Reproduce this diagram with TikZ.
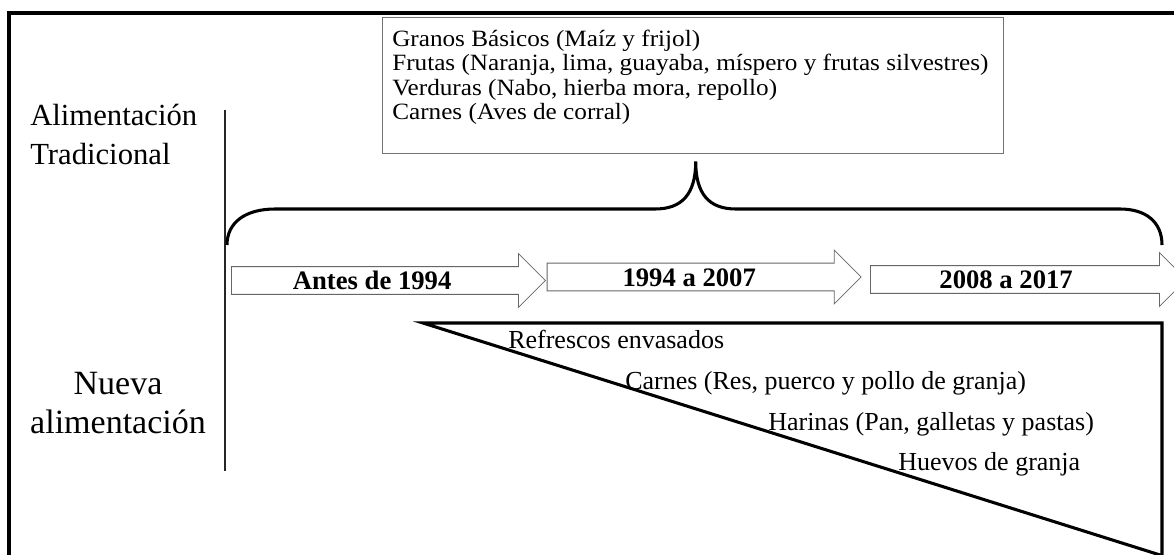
\documentclass[tikz,border=0pt]{standalone}
\usepackage{fontspec}
\setmainfont{Liberation Serif}
\newfontfamily\widefont[FakeStretch=1.08]{Liberation Serif}
\usetikzlibrary{shapes.arrows}

\begin{document}
\begin{tikzpicture}[
    x=0.75pt, y=-0.75pt,
    period/.style ={
        single arrow,
        anchor=tail,
        draw=black!60,
        fill=white,
        line width=0.6pt,
        minimum height=235.5pt,
        single arrow head extend=9.75pt,
        inner xsep=0pt,
        inner ysep=3.3pt,
        text height=13.6pt,
        text depth=0pt,
        font=\bfseries\fontsize{20}{20}\selectfont
    },
    heavy/.style ={line width=2.3pt},
    side/.style ={anchor=base west, inner sep=0pt, font=\fontsize{23}{28}\selectfont},
    item/.style ={anchor=base west, inner sep=0pt, font=\fontsize{19.5}{22}\selectfont},
    crop/.style ={anchor=base west, inner sep=0pt, font=\widefont\fontsize{17.5}{18}\selectfont}
    ]
    \useasboundingbox (0,0) rectangle (1174,554);

    % frame, cut by the page on the right and below
    \draw[heavy] (9,570) -- (9,13) -- (1190,13);

    % left labels
    \node[side] (tradA) at (30,125) {Alimentación};
    \node[side] (tradB) at (30,164) {Tradicional};
    \node[side, anchor=base, font=\fontsize{25.5}{28}\selectfont] (nuevaA) at (118,394) {Nueva};
    \node[side, anchor=base, font=\fontsize{25.5}{28}\selectfont] (nuevaB) at (118,433) {alimentación};
    \draw[line width=1.5pt, black!85] (225,110) -- (225,471);

    % traditional foods
    \node[draw=black!55, line width=0.6pt, anchor=north west, inner sep=0pt,
          minimum width=465.75pt, minimum height=102pt] (tradbox) at (382,17) {};
    \foreach \i/ \y/ \txt in {1/46/{Granos Básicos (Maíz y frijol)},
                              2/70.5/{Frutas (Naranja, lima, guayaba, míspero y frutas silvestres)},
                              3/95/{Verduras (Nabo, hierba mora, repollo)},
                              4/119/{Carnes (Aves de corral)}}
        \node[crop] (t\i) at (392,\y) {\txt};

    % brace
    \draw[heavy] (227,245) .. controls (227,222) and (246,209) .. (275,209)
        -- (655,209) .. controls (682,209) and (695.7,194) .. (695.7,161.5)
        .. controls (695.7,194) and (709,209) .. (736,209)
        -- (1120,209) .. controls (1146,209) and (1162,222) .. (1162,245);

    % periods (text kept on the body, not on the whole arrow)
    \node[period] (p1) at (231,280.5) {Antes de 1994\hspace*{14pt}};
    \node[period] (p2) at (546.7,277) {1994 a 2007\hspace*{12pt}};
    \node[period, minimum height=237pt] (p3) at (870,279.5) {2008 a 2017\hspace*{23pt}};

    % new foods
    \draw[heavy] (1162,570) -- (1162,323) -- (423,323) -- (1162,555.6);
    \foreach \i/ \x/ \y/ \txt in {1/508/348/{Refrescos envasados},
                                  2/625/389/{Carnes (Res, puerco y pollo de granja)},
                                  3/768/430/{Harinas (Pan, galletas y pastas)},
                                  4/898/470/{Huevos de granja}}
        \node[item] (n\i) at (\x,\y) {\txt};

\end{tikzpicture}
\end{document}
